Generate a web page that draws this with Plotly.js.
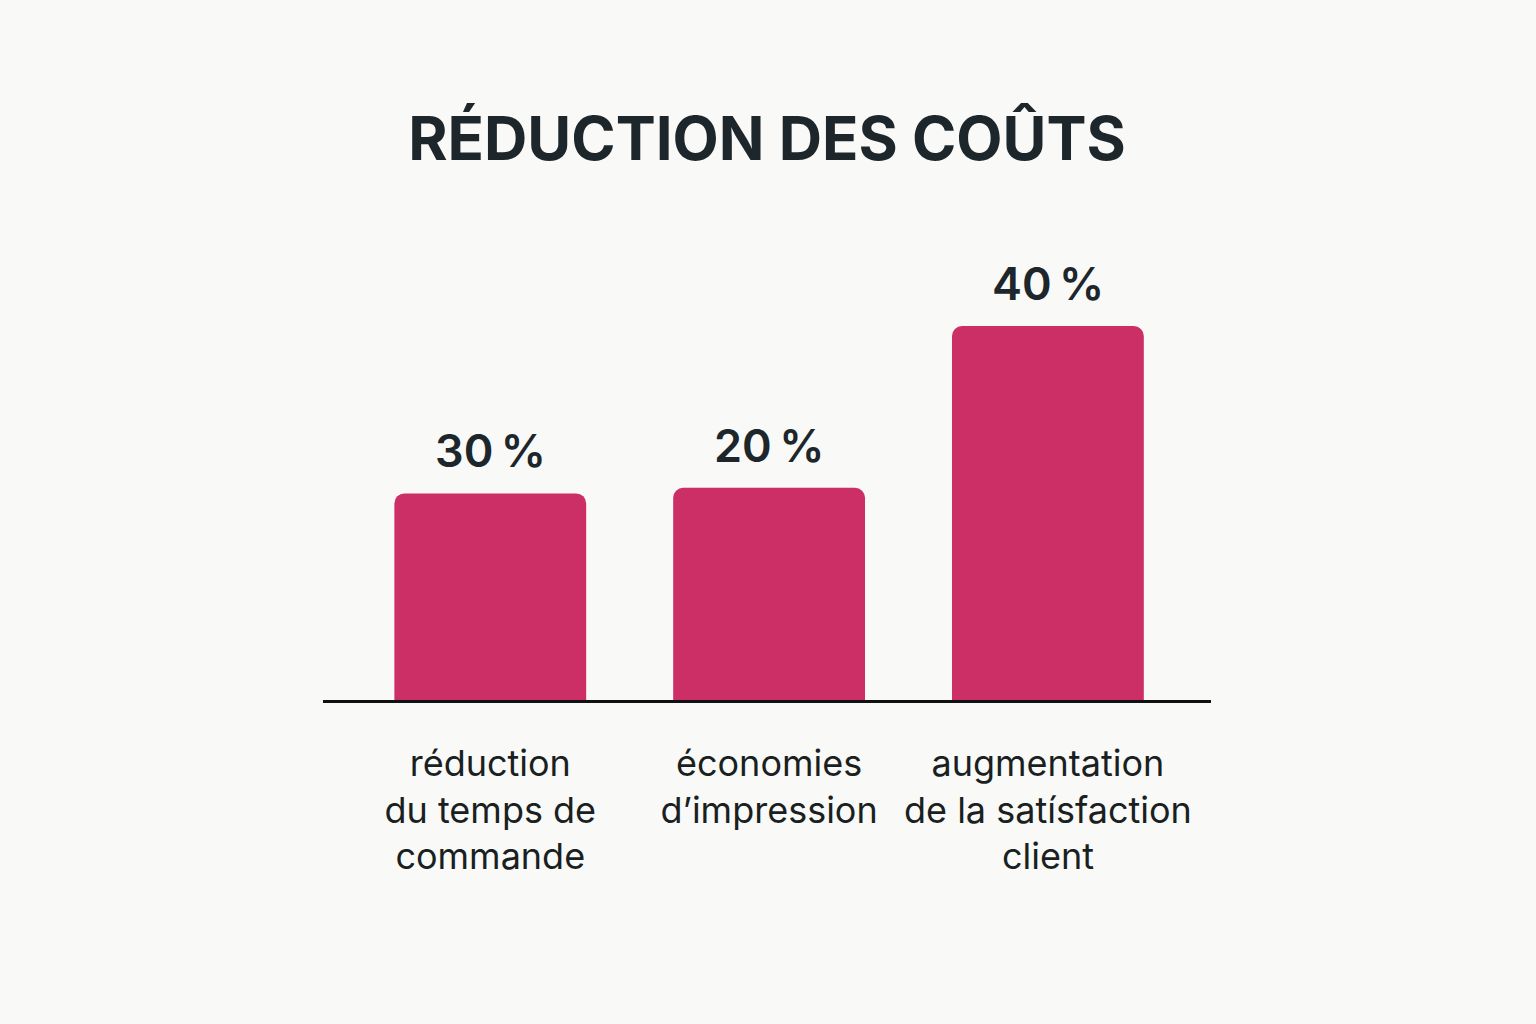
<!DOCTYPE html>
<html>
<head>
<meta charset="utf-8">
<script src="https://cdn.plot.ly/plotly-3.0.1.min.js"></script>
<style>html,body{margin:0;padding:0;background:#f9f9f7;}#chart{width:1536px;height:1024px;}</style>
</head>
<body>
<div id="chart"></div>
<script>
// Data
const categories = ["réduction<br>du temps de<br>commande", "économies<br>d’impression", "augmentation<br>de la satísfaction<br>client"];
const valueLabels = ["30\u202F%", "20\u202F%", "40\u202F%"];
// bar heights as drawn in the picture (in % units, 40 % bar as reference)
const barHeights = [22.1, 22.7, 40];
const chartTitle = "RÉDUCTION DES COÛTS";

const xIdx = categories.map((c, i) => i);

const trace = {
  type: "bar",
  x: xIdx,
  y: barHeights,
  width: 0.688,
  marker: { color: "#cc2e66", cornerradius: 10, line: { width: 0 } },
  hoverinfo: "skip"
};

const annotations = xIdx.map((xi, i) => ({
  x: xi, y: barHeights[i], xref: "x", yref: "y",
  text: valueLabels[i], showarrow: false,
  yanchor: "bottom", yshift: 13,
  font: { family: "Inter, 'Noto Sans', sans-serif", size: 45, color: "#1c262b", weight: 600 }
}));

const layout = {
  width: 1536, height: 1024,
  paper_bgcolor: "#f9f9f7", plot_bgcolor: "#f9f9f7",
  margin: { l: 323, r: 325, t: 200, b: 324 },
  showlegend: false,
  title: {
    text: chartTitle, x: 0.5, xanchor: "center", y: 1 - 139/1024, yanchor: "middle",
    xref: "paper", yref: "container",
    font: { family: "Inter, 'Noto Sans', sans-serif", size: 60, color: "#1c262b", weight: 700 }
  },
  xaxis: {
    range: [-0.6, 2.585], tickmode: "array", tickvals: xIdx, ticktext: categories,
    showline: true, linecolor: "#111111", linewidth: 2.5, showgrid: false, zeroline: false,
    ticks: "", ticklabelstandoff: 30,
    tickfont: { family: "Inter, 'Noto Sans', sans-serif", size: 36, color: "#1a1f22" },
    fixedrange: true
  },
  yaxis: { range: [0, 53.48], visible: false, showgrid: false, zeroline: false, fixedrange: true },
  annotations: annotations
};

Plotly.newPlot("chart", [trace], layout, { displayModeBar: false, staticPlot: true });
</script>
</body>
</html>
